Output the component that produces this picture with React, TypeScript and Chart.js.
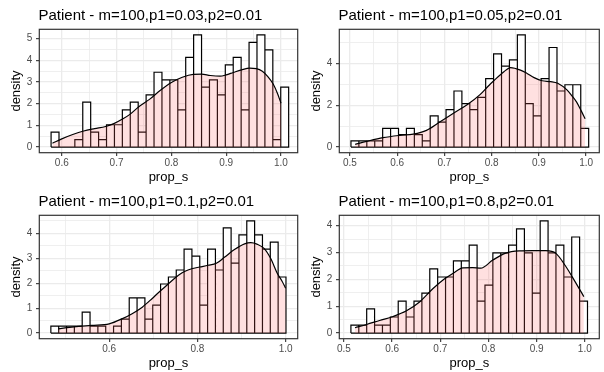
import React, { useEffect, useRef } from "react";
import { Chart, registerables } from "chart.js";

Chart.register(...registerables);

const FONT = '"Liberation Sans", Arial, Helvetica, sans-serif';

// ---------- Panel 1 ----------
const title1 = "Patient - m=100,p1=0.03,p2=0.01";
const binStart1 = 0.5805;
const binWidth1 = 0.01445;
const density1 = [0.69, 0, 0, 0.34, 2.07, 0.69, 0.34, 1.03, 1.03, 1.72, 2.07, 0.69, 2.41, 3.45, 3.1, 3.1, 1.72, 4.14, 5.17, 2.76, 3.1, 2.41, 3.79, 4.14, 1.72, 4.83, 5.17, 4.48, 0.34, 2.76];
const curveX1 = [0.583, 0.6, 0.62, 0.64, 0.66, 0.68, 0.695, 0.71, 0.725, 0.74, 0.76, 0.78, 0.8, 0.82, 0.84, 0.855, 0.871, 0.889, 0.9, 0.913, 0.928, 0.943, 0.955, 0.966, 0.976, 0.986, 0.994, 1.0];
const curveY1 = [0.18, 0.38, 0.58, 0.74, 0.85, 0.95, 1.08, 1.28, 1.52, 1.85, 2.2, 2.62, 2.98, 3.22, 3.35, 3.36, 3.3, 3.27, 3.33, 3.44, 3.56, 3.64, 3.62, 3.5, 3.25, 2.9, 2.45, 2.02];
const xRange1 = [0.559, 1.0305];
const yRange1 = [-0.2585, 5.43];
const xTicks1 = [0.6, 0.7, 0.8, 0.9, 1.0];
const xTickLabels1 = ["0.6", "0.7", "0.8", "0.9", "1.0"];
const xMinor1 = [0.65, 0.75, 0.85, 0.95];
const yTicks1 = [0, 1, 2, 3, 4, 5];
const yTickLabels1 = ["0", "1", "2", "3", "4", "5"];
const yMinor1 = [0.5, 1.5, 2.5, 3.5, 4.5];

// ---------- Panel 2 ----------
const title2 = "Patient - m=100,p1=0.05,p2=0.01";
const binStart2 = 0.5021;
const binWidth2 = 0.01678;
const density2 = [0.3, 0.3, 0.3, 0.3, 0.89, 0.89, 0.6, 0.89, 0.6, 0.3, 1.49, 1.19, 1.79, 2.68, 2.08, 1.79, 2.38, 3.27, 4.46, 3.87, 4.17, 5.36, 2.08, 1.49, 3.27, 4.76, 2.68, 2.98, 2.98, 0.89];
const curveX2 = [0.511, 0.535, 0.57, 0.606, 0.634, 0.662, 0.69, 0.72, 0.748, 0.776, 0.79, 0.805, 0.826, 0.84, 0.861, 0.875, 0.89, 0.907, 0.925, 0.94, 0.96, 0.97, 0.98, 0.99, 0.998];
const curveY2 = [0.13, 0.27, 0.45, 0.56, 0.62, 0.8, 1.2, 1.63, 2.02, 2.52, 2.85, 3.18, 3.6, 3.8, 3.68, 3.52, 3.32, 3.17, 3.13, 3.05, 2.72, 2.45, 2.15, 1.72, 1.35];
const xRange2 = [0.4774, 1.028];
const yRange2 = [-0.268, 5.63];
const xTicks2 = [0.5, 0.6, 0.7, 0.8, 0.9, 1.0];
const xTickLabels2 = ["0.5", "0.6", "0.7", "0.8", "0.9", "1.0"];
const xMinor2 = [0.55, 0.65, 0.75, 0.85, 0.95];
const yTicks2 = [0, 2, 4];
const yTickLabels2 = ["0", "2", "4"];
const yMinor2 = [1, 3, 5];

// ---------- Panel 3 ----------
const title3 = "Patient - m=100,p1=0.1,p2=0.01";
const binStart3 = 0.4677;
const binWidth3 = 0.01777;
const density3 = [0.28, 0.28, 0.28, 0.28, 0.84, 0.28, 0.28, 0, 0.28, 0.56, 1.41, 1.41, 0.56, 1.12, 1.97, 2.25, 2.53, 3.37, 3.09, 1.12, 3.37, 2.53, 4.22, 2.81, 3.94, 4.5, 3.94, 3.37, 3.65, 2.25];
const curveX3 = [0.484, 0.52, 0.56, 0.6, 0.63, 0.652, 0.675, 0.697, 0.712, 0.728, 0.742, 0.757, 0.772, 0.787, 0.805, 0.824, 0.843, 0.862, 0.884, 0.907, 0.921, 0.935, 0.951, 0.966, 0.981, 0.992, 1.0];
const curveY3 = [0.17, 0.25, 0.31, 0.37, 0.58, 0.78, 1.04, 1.38, 1.63, 1.88, 2.1, 2.32, 2.48, 2.58, 2.65, 2.72, 2.8, 3.05, 3.35, 3.58, 3.63, 3.57, 3.4, 3.0, 2.4, 2.08, 1.8];
const xRange3 = [0.4415, 1.0274];
const yRange3 = [-0.225, 4.725];
const xTicks3 = [0.6, 0.8, 1.0];
const xTickLabels3 = ["0.6", "0.8", "1.0"];
const xMinor3 = [0.5, 0.7, 0.9];
const yTicks3 = [0, 1, 2, 3, 4];
const yTickLabels3 = ["0", "1", "2", "3", "4"];
const yMinor3 = [0.5, 1.5, 2.5, 3.5, 4.5];

// ---------- Panel 4 ----------
const title4 = "Patient - m=100,p1=0.8,p2=0.01";
const binStart4 = 0.5145;
const binWidth4 = 0.01637;
const density4 = [0.3, 0.3, 0.9, 0.3, 0.3, 0.6, 1.19, 0.6, 1.19, 1.49, 2.39, 2.09, 2.09, 2.69, 2.69, 3.28, 1.19, 1.79, 2.99, 2.99, 3.28, 3.88, 2.99, 1.49, 4.18, 2.99, 3.28, 2.09, 3.58, 1.19];
const curveX4 = [0.523, 0.547, 0.574, 0.602, 0.629, 0.657, 0.685, 0.705, 0.726, 0.747, 0.767, 0.784, 0.809, 0.836, 0.864, 0.891, 0.919, 0.94, 0.96, 0.981, 0.998];
const curveY4 = [0.2, 0.32, 0.47, 0.62, 0.82, 1.16, 1.66, 1.97, 2.22, 2.43, 2.44, 2.42, 2.72, 2.98, 3.06, 3.07, 3.07, 2.97, 2.5, 1.88, 1.36];
const xRange4 = [0.4904, 1.0301];
const yRange4 = [-0.209, 4.389];
const xTicks4 = [0.5, 0.6, 0.7, 0.8, 0.9, 1.0];
const xTickLabels4 = ["0.5", "0.6", "0.7", "0.8", "0.9", "1.0"];
const xMinor4 = [0.55, 0.65, 0.75, 0.85, 0.95];
const yTicks4 = [0, 1, 2, 3, 4];
const yTickLabels4 = ["0", "1", "2", "3", "4"];
const yMinor4 = [0.5, 1.5, 2.5, 3.5];

// ---------- layout ----------
const PANEL_H = 186;
const PLOT_LEFT = 39.3;
const PLOT_TOP = 29.3;
const PLOT_BOTTOM = 152.7;

type PanelSpec = {
  title: string;
  binStart: number;
  binWidth: number;
  density: number[];
  curveX: number[];
  curveY: number[];
  xRange: number[];
  yRange: number[];
  xTicks: number[];
  xTickLabels: string[];
  xMinor: number[];
  yTicks: number[];
  yTickLabels: string[];
  yMinor: number[];
  left: number;
  top: number;
  width: number;
  plotRight: number;
};

const near = (a: number, b: number) => Math.abs(a - b) < 1e-9;
const labelFor = (values: number[], labels: string[], v: number) => {
  const i = values.findIndex((t) => near(t, v));
  return i >= 0 ? labels[i] : "";
};

function axisGrid(majors: number[]) {
  const isMajor = (ctx: any) => majors.some((m) => near(m, ctx.tick ? ctx.tick.value : NaN));
  return {
    offset: false,
    drawOnChartArea: true,
    drawTicks: true,
    tickLength: 3.3,
    tickWidth: 1.1,
    color: "#EBEBEB",
    lineWidth: (ctx: any) => (isMajor(ctx) ? 1.3 : 0.8),
    tickColor: (ctx: any) => (isMajor(ctx) ? "#333333" : "rgba(0,0,0,0)"),
  };
}

function Panel({ spec }: { spec: PanelSpec }) {
  const ref = useRef<HTMLCanvasElement>(null);

  useEffect(() => {
    const canvas = ref.current;
    if (!canvas) return;

    // histogram bins: white bars plus one outline path over all of them
    const bars = spec.density.map((h, i) => ({ x: spec.binStart + (i + 0.5) * spec.binWidth, y: h }));
    const outline: { x: number; y: number }[] = [{ x: spec.binStart, y: 0 }];
    spec.density.forEach((h, i) => {
      const x0 = spec.binStart + i * spec.binWidth;
      const x1 = x0 + spec.binWidth;
      outline.push({ x: x0, y: h }, { x: x1, y: h }, { x: x1, y: 0 });
    });
    outline.push({ x: spec.binStart, y: 0 });

    const curve = spec.curveX.map((x, i) => ({ x, y: spec.curveY[i] }));

    const xAll = [...spec.xTicks, ...spec.xMinor].sort((a, b) => a - b);
    const yAll = [...spec.yTicks, ...spec.yMinor].sort((a, b) => a - b);

    const framePlugin = {
      id: "panelFrame",
      afterDatasetsDraw(chart: any) {
        const { ctx, chartArea: a } = chart;
        ctx.save();
        ctx.strokeStyle = "#333333";
        ctx.lineWidth = 1.2;
        ctx.strokeRect(a.left, a.top, a.right - a.left, a.bottom - a.top);
        ctx.restore();
      },
      afterDraw(chart: any) {
        const { ctx, chartArea: a } = chart;
        ctx.save();
        ctx.fillStyle = "#000000";
        ctx.font = `15px ${FONT}`;
        ctx.textAlign = "left";
        ctx.textBaseline = "alphabetic";
        ctx.fillText(spec.title, a.left - 0.8, 20);
        ctx.restore();
      },
    };

    const chart = new Chart(canvas, {
      type: "bar",
      data: {
        datasets: [
          {
            type: "line",
            data: curve,
            borderColor: "#000000",
            borderWidth: 1.2,
            backgroundColor: "rgba(255,102,102,0.2)",
            fill: "origin",
            pointRadius: 0,
            cubicInterpolationMode: "monotone",
            order: 1,
          } as any,
          {
            type: "line",
            data: outline,
            borderColor: "#000000",
            borderWidth: 1.2,
            fill: false,
            pointRadius: 0,
            tension: 0,
            order: 2,
          } as any,
          {
            type: "bar",
            data: bars,
            backgroundColor: "#FFFFFF",
            borderWidth: 0,
            barPercentage: 1,
            categoryPercentage: 1,
            order: 3,
          } as any,
        ],
      },
      options: {
        responsive: false,
        animation: false,
        events: [],
        layout: {
          padding: { top: PLOT_TOP, right: spec.width - spec.plotRight, left: 0, bottom: 0 },
        },
        plugins: {
          legend: { display: false },
          tooltip: { enabled: false },
        },
        scales: {
          x: {
            type: "linear",
            min: spec.xRange[0],
            max: spec.xRange[1],
            offset: false,
            afterBuildTicks: (s: any) => {
              s.ticks = xAll.map((v) => ({ value: v }));
            },
            afterFit: (s: any) => {
              s.height = PANEL_H - PLOT_BOTTOM;
            },
            ticks: {
              autoSkip: false,
              maxRotation: 0,
              minRotation: 0,
              padding: 1,
              color: "#4D4D4D",
              font: { family: FONT, size: 10 },
              callback: (v: any) => labelFor(spec.xTicks, spec.xTickLabels, Number(v)),
            },
            grid: axisGrid(spec.xTicks),
            border: { display: false },
            title: {
              display: true,
              text: "prop_s",
              color: "#000000",
              font: { family: FONT, size: 13 },
              padding: { top: 0, bottom: 0.8 },
            },
          } as any,
          y: {
            type: "linear",
            position: "left",
            min: spec.yRange[0],
            max: spec.yRange[1],
            afterBuildTicks: (s: any) => {
              s.ticks = yAll.map((v) => ({ value: v }));
            },
            afterFit: (s: any) => {
              s.width = PLOT_LEFT;
            },
            ticks: {
              autoSkip: false,
              padding: 3.7,
              color: "#4D4D4D",
              font: { family: FONT, size: 10 },
              callback: (v: any) => labelFor(spec.yTicks, spec.yTickLabels, Number(v)),
            },
            grid: axisGrid(spec.yTicks),
            border: { display: false },
            title: {
              display: true,
              text: "density",
              color: "#000000",
              font: { family: FONT, size: 13 },
              padding: { top: 8.2, bottom: 0 },
            },
          } as any,
        },
      },
      plugins: [framePlugin],
    } as any);

    return () => chart.destroy();
  }, [spec]);

  return (
    <canvas
      ref={ref}
      width={spec.width}
      height={PANEL_H}
      style={{ position: "absolute", left: spec.left, top: spec.top, width: spec.width, height: PANEL_H }}
    />
  );
}

const panels: PanelSpec[] = [
  {
    title: title1, binStart: binStart1, binWidth: binWidth1, density: density1,
    curveX: curveX1, curveY: curveY1, xRange: xRange1, yRange: yRange1,
    xTicks: xTicks1, xTickLabels: xTickLabels1, xMinor: xMinor1,
    yTicks: yTicks1, yTickLabels: yTickLabels1, yMinor: yMinor1,
    left: 0, top: 0, width: 300, plotRight: 297.7,
  },
  {
    title: title2, binStart: binStart2, binWidth: binWidth2, density: density2,
    curveX: curveX2, curveY: curveY2, xRange: xRange2, yRange: yRange2,
    xTicks: xTicks2, xTickLabels: xTickLabels2, xMinor: xMinor2,
    yTicks: yTicks2, yTickLabels: yTickLabels2, yMinor: yMinor2,
    left: 300, top: 0, width: 304, plotRight: 299.3,
  },
  {
    title: title3, binStart: binStart3, binWidth: binWidth3, density: density3,
    curveX: curveX3, curveY: curveY3, xRange: xRange3, yRange: yRange3,
    xTicks: xTicks3, xTickLabels: xTickLabels3, xMinor: xMinor3,
    yTicks: yTicks3, yTickLabels: yTickLabels3, yMinor: yMinor3,
    left: 0, top: 186, width: 300, plotRight: 297.7,
  },
  {
    title: title4, binStart: binStart4, binWidth: binWidth4, density: density4,
    curveX: curveX4, curveY: curveY4, xRange: xRange4, yRange: yRange4,
    xTicks: xTicks4, xTickLabels: xTickLabels4, xMinor: xMinor4,
    yTicks: yTicks4, yTickLabels: yTickLabels4, yMinor: yMinor4,
    left: 300, top: 186, width: 304, plotRight: 299.3,
  },
];

export default function App() {
  return (
    <div style={{ position: "absolute", left: 0, top: 0, width: 604, height: 372, background: "#FFFFFF" }}>
      {panels.map((p, i) => (
        <Panel key={i} spec={p} />
      ))}
    </div>
  );
}
